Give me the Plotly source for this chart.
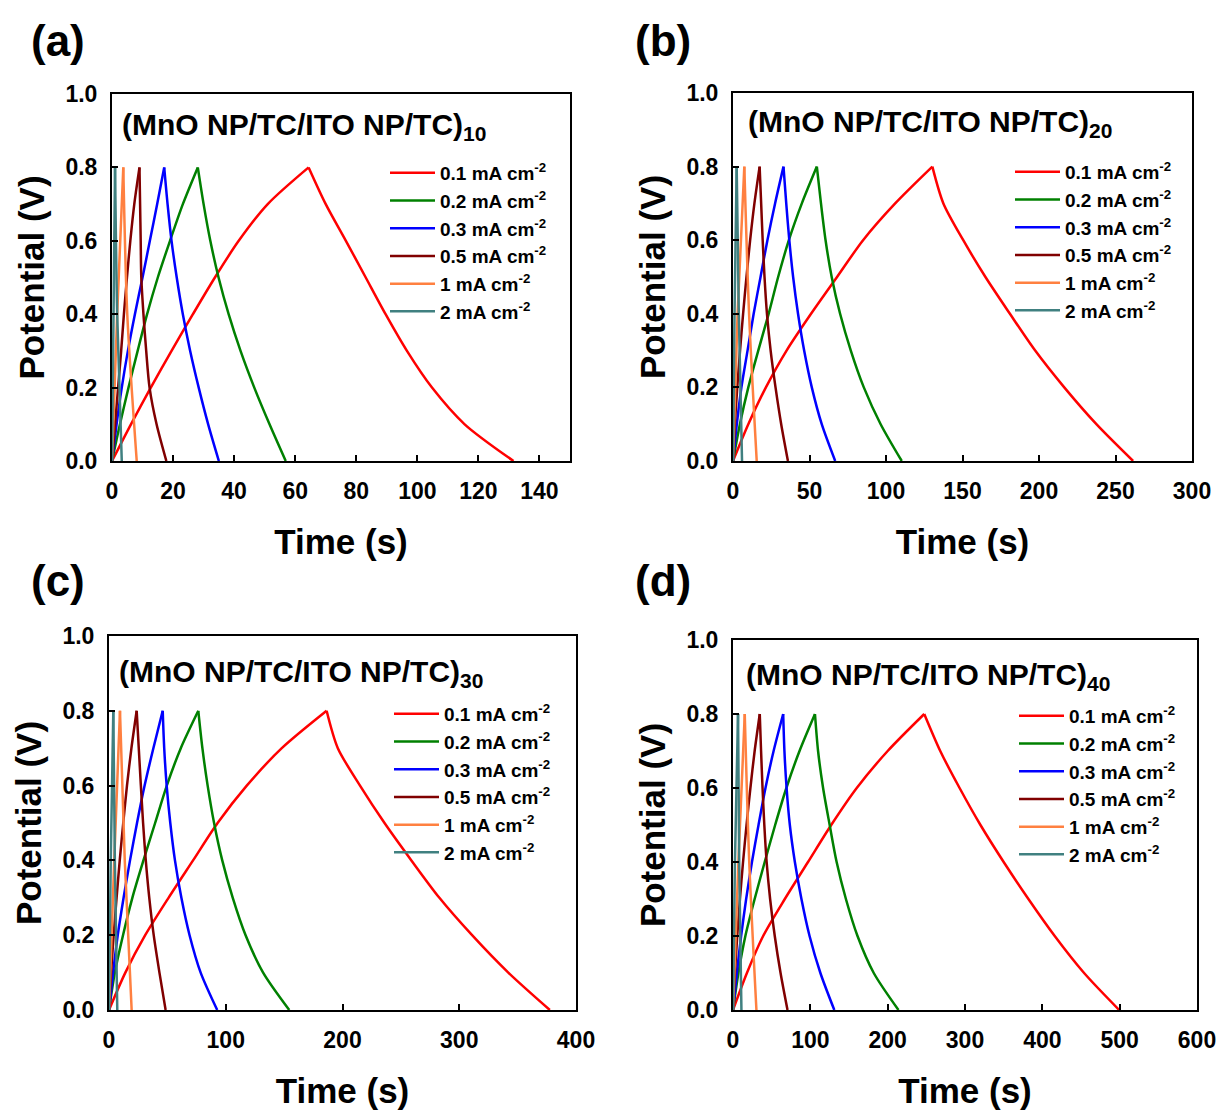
import plotly.graph_objects as go

# ---------------- data ----------------
# Potential levels (V): charge 0 -> 0.8, then discharge 0.8 -> 0
V_FULL = [0.0, 0.1, 0.2, 0.3, 0.4, 0.5, 0.6, 0.7, 0.8, 0.7, 0.6, 0.5, 0.4, 0.3, 0.2, 0.1, 0.0]
V_SHORT = [0.0, 0.4, 0.8, 0.4, 0.0]

CURRENT_LABELS = ["0.1 mA cm<sup>-2</sup>", "0.2 mA cm<sup>-2</sup>", "0.3 mA cm<sup>-2</sup>",
                  "0.5 mA cm<sup>-2</sup>", "1 mA cm<sup>-2</sup>", "2 mA cm<sup>-2</sup>"]
COLORS = ["#FF0000", "#008000", "#0000FF", "#800000", "#FF8040", "#408080"]

PANEL_LETTERS = ["(a)", "(b)", "(c)", "(d)"]
BILAYERS = ["10", "20", "30", "40"]
X_MAX = [150, 300, 400, 600]
X_DTICK = [20, 50, 100, 100]

# Time (s) at each potential level, panel (a) (MnO NP/TC/ITO NP/TC)10
A_T_01 = [0, 6.2, 12.7, 19.5, 26.5, 33.7, 41.5, 51.0, 64.4, 70.0, 76.6, 83.1, 89.6, 96.6, 104.8, 115.5, 131.5]
A_T_02 = [0, 2.6, 5.4, 8.4, 11.5, 15.0, 19.0, 23.2, 28.1, 30.0, 32.2, 34.9, 38.2, 42.1, 46.6, 51.6, 56.9]
A_T_03 = [0, 1.5, 3.2, 5.2, 7.5, 10.0, 12.4, 14.8, 17.1, 18.2, 19.5, 21.2, 23.2, 25.6, 28.4, 31.5, 35.0]
A_T_05 = [0, 1.0, 2.0, 3.0, 3.9, 4.9, 6.0, 7.3, 9.0, 9.2, 9.4, 9.6, 10.3, 11.2, 12.3, 14.6, 17.8]
A_T_1 = [0, 1.7, 3.7, 5.0, 8.1]
A_T_2 = [0, 0.5, 1.0, 1.7, 3.2]

# panel (b) (MnO NP/TC/ITO NP/TC)20
B_T_01 = [0, 10, 21.5, 35, 51, 68, 85, 106, 130.3, 137.5, 150.5, 165, 181, 197.5, 216.5, 237.5, 261.5]
B_T_02 = [0, 4.5, 10, 16.5, 23.3, 29.5, 36.5, 45, 54.8, 57.5, 60.5, 64.5, 70, 77, 85.5, 96.5, 110.3]
B_T_03 = [0, 2.5, 5.5, 9.5, 13.5, 18, 22.5, 27.5, 33.0, 34.8, 36.8, 39.3, 42.5, 46.5, 51.5, 58, 66.8]
B_T_05 = [0, 1.2, 2.8, 4.6, 6.6, 8.8, 11.2, 14.0, 17.4, 18.4, 19.4, 20.6, 22.2, 24.6, 27.8, 31.5, 35.9]
B_T_1 = [0, 3.0, 7.4, 10.5, 15.5]
B_T_2 = [0, 1.0, 2.4, 3.8, 5.9]

# panel (c) (MnO NP/TC/ITO NP/TC)30
C_T_01 = [0, 14, 31, 51, 72, 93, 118, 148, 186.4, 196, 215, 236, 259, 283, 311, 342, 377.6]
C_T_02 = [0, 5, 12, 20, 29.5, 39.5, 49.5, 61.5, 76.5, 80, 84.5, 90, 97, 106, 117, 132, 154.4]
C_T_03 = [0, 3.5, 7.5, 12.5, 18, 24, 30.5, 38, 46, 47.3, 49.4, 52.5, 56.5, 62, 69, 78.5, 92.7]
C_T_05 = [0, 1.8, 4.0, 6.5, 9.2, 12.2, 15.4, 19.2, 23.7, 25.5, 27.3, 29.2, 31.5, 34.5, 38.3, 43.2, 48.5]
C_T_1 = [0, 4.5, 9.4, 13.5, 19.4]
C_T_2 = [0, 1.5, 3.7, 5.0, 7.1]

# panel (d) (MnO NP/TC/ITO NP/TC)40
D_T_01 = [0, 18, 39, 67, 97, 127, 160, 200, 247.3, 268, 293, 320, 350, 382, 416, 454, 499.4]
D_T_02 = [0, 7, 16, 28, 41, 54.5, 69, 86, 106, 110, 116.5, 125, 134, 146, 161, 182, 214]
D_T_03 = [0, 5, 10.5, 17, 24.5, 33, 42, 52.5, 64.9, 66.5, 69.3, 73.5, 80, 88.5, 99, 113, 131]
D_T_05 = [0, 2.5, 5.5, 9, 13, 17.5, 22.5, 28, 34.6, 36.3, 38.2, 40.5, 43.5, 48, 54, 61.5, 70.5]
D_T_1 = [0, 7, 15.2, 21, 30.3]
D_T_2 = [0, 2.5, 6.5, 8, 10.9]

PANEL_TIMES = [
    [A_T_01, A_T_02, A_T_03, A_T_05, A_T_1, A_T_2],
    [B_T_01, B_T_02, B_T_03, B_T_05, B_T_1, B_T_2],
    [C_T_01, C_T_02, C_T_03, C_T_05, C_T_1, C_T_2],
    [D_T_01, D_T_02, D_T_03, D_T_05, D_T_1, D_T_2],
]

# ---------------- layout geometry (pixels in a 1220 x 1111 canvas) ----------------
W, H = 1220, 1111
FONT = "Liberation Sans, Arial, sans-serif"

# plot-area boxes: (left, right, top, bottom) in px
BOXES = [(112, 570, 94, 461), (733, 1192, 93, 461), (109, 576, 636, 1010), (733, 1197, 640, 1010)]
LEGEND_POS = [(385, 154), (1010, 153), (389, 695), (1014, 697)]
INNER_TITLE_POS = [(120, 126), (746, 124), (117, 673), (744, 676)]
LETTER_POS = [(58, 40), (663, 40), (58, 580), (663, 580)]


def px_x(x):
    return x / W


def px_y(y):
    return 1 - y / H


fig = go.Figure()
layout = dict(
    template="none",
    width=W, height=H,
    margin=dict(l=0, r=0, t=0, b=0, autoexpand=False),
    paper_bgcolor="white", plot_bgcolor="white",
    font=dict(family=FONT, color="black"),
    annotations=[],
    hovermode=False,
)

for p in range(4):
    sfx = "" if p == 0 else str(p + 1)
    xa, ya = "x" + sfx, "y" + sfx
    leg = "legend" + sfx
    for s in range(6):
        ts = PANEL_TIMES[p][s]
        vs = V_FULL if s < 4 else V_SHORT
        k = vs.index(max(vs))
        grp = "p%d_s%d" % (p, s)
        # charge branch (carries the legend entry) and discharge branch
        fig.add_trace(go.Scatter(
            x=ts[:k + 1], y=vs[:k + 1], mode="lines",
            line=dict(color=COLORS[s], width=2.5, shape="spline", smoothing=0.8),
            name=CURRENT_LABELS[s], xaxis=xa, yaxis=ya, legend=leg,
            legendgroup=grp, showlegend=True,
        ))
        fig.add_trace(go.Scatter(
            x=ts[k:], y=vs[k:], mode="lines",
            line=dict(color=COLORS[s], width=2.5, shape="spline", smoothing=0.8),
            name=CURRENT_LABELS[s], xaxis=xa, yaxis=ya, legend=leg,
            legendgroup=grp, showlegend=False,
        ))
    l, r, t, b = BOXES[p]
    axis_common = dict(
        automargin=False,
        showline=True, linecolor="black", linewidth=2, mirror=True,
        ticks="inside", ticklen=6, tickwidth=2, tickcolor="black",
        showgrid=False, zeroline=False,
        tickfont=dict(family=FONT, size=23, color="black", weight="bold"),
    )
    layout["xaxis" + sfx] = dict(
        axis_common,
        domain=[px_x(l), px_x(r)], anchor=ya,
        range=[0, X_MAX[p]], dtick=X_DTICK[p], tick0=0,
        ticklabelstandoff=8,
        title=dict(text="Time (s)", font=dict(family=FONT, size=35, color="black", weight="bold"),
                   standoff=27),
    )
    layout["yaxis" + sfx] = dict(
        axis_common,
        domain=[px_y(b), px_y(t)], anchor=xa,
        range=[0, 1.0], dtick=0.2, tick0=0, tickformat=".1f",
        ticklabelstandoff=8,
        title=dict(text="Potential (V)", font=dict(family=FONT, size=35, color="black", weight="bold"),
                   standoff=10),
    )
    lx, ly = LEGEND_POS[p]
    layout[leg] = dict(
        x=px_x(lx), y=px_y(ly), xanchor="left", yanchor="top",
        xref="paper", yref="paper",
        bgcolor="rgba(0,0,0,0)", borderwidth=0,
        font=dict(family=FONT, size=19, color="black", weight="bold"),
        itemwidth=45, tracegroupgap=0,
    )
    tx, ty = INNER_TITLE_POS[p]
    layout["annotations"].append(dict(
        text="(MnO NP/TC/ITO NP/TC)<sub>" + BILAYERS[p] + "</sub>",
        x=px_x(tx), y=px_y(ty), xref="paper", yref="paper",
        xanchor="left", yanchor="middle", showarrow=False,
        font=dict(family=FONT, size=30, color="black", weight="bold"),
    ))
    cx, cy = LETTER_POS[p]
    layout["annotations"].append(dict(
        text=PANEL_LETTERS[p], x=px_x(cx), y=px_y(cy), xref="paper", yref="paper",
        xanchor="center", yanchor="middle", showarrow=False,
        font=dict(family=FONT, size=44, color="black", weight="bold"),
    ))

fig.update_layout(**layout)
fig.write_html("out.html")
